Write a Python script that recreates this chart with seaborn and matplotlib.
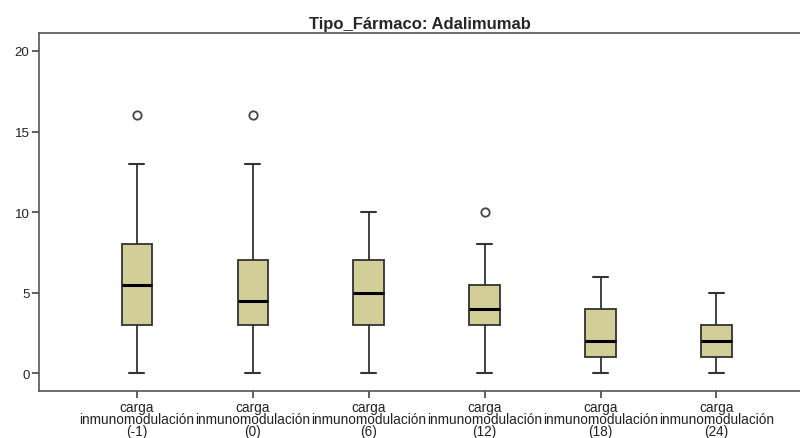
import matplotlib
matplotlib.use("Agg")
import matplotlib.pyplot as plt
import seaborn as sns

# Five-number summaries
labels = ["carga\ninmunomodulación\n(-1)", "carga\ninmunomodulación\n(0)",
          "carga\ninmunomodulación\n(6)", "carga\ninmunomodulación\n(12)",
          "carga\ninmunomodulación\n(18)", "carga\ninmunomodulación\n(24)"]
whis_lo = [0, 0, 0, 0, 0, 0]
q1 = [3, 3, 3, 3, 1, 1]
medians = [5.5, 4.5, 5, 4, 2, 2]
q3 = [8, 7, 7, 5.5, 4, 3]
whis_hi = [13, 13, 10, 8, 6, 5]
outliers = [[16], [16], [], [10], [], []]

sns.set_style("white", {"xtick.bottom": True, "ytick.left": True})
plt.rcParams["font.family"] = ["Liberation Sans", "DejaVu Sans"]

fig = plt.figure(figsize=(8, 4.39), dpi=100)
ax = fig.add_axes([0.049, 0.107, 0.951, 0.815])

stats = []
for i in range(len(labels)):
    stats.append(dict(whislo=whis_lo[i], q1=q1[i], med=medians[i], q3=q3[i],
                      whishi=whis_hi[i], fliers=outliers[i], label=labels[i]))

edge = "#333333"
ax.bxp(stats, positions=range(len(labels)), widths=0.26, patch_artist=True,
       boxprops=dict(facecolor="#d3ce97", edgecolor=edge, linewidth=1.3),
       medianprops=dict(color="black", linewidth=2.2),
       whiskerprops=dict(color=edge, linewidth=1.3),
       capprops=dict(color=edge, linewidth=1.5),
       capwidths=0.13,
       flierprops=dict(marker="o", markersize=6, markerfacecolor="white",
                       markeredgecolor="#444444", markeredgewidth=1.3))

ax.set_xlim(-0.84, 5.72)
ax.set_ylim(-1.1, 21.1)
ax.set_yticks([0, 5, 10, 15, 20])
ax.tick_params(axis="both", direction="out", length=5, width=1.2, color="#444444",
               labelsize=9.8, labelcolor="#222222", pad=1.5)
ax.tick_params(axis="y", labelsize=9.5, pad=2)
for t in ax.get_xticklabels():
    t.set_linespacing(0.82)

for side in ["left", "bottom", "top"]:
    ax.spines[side].set_color("#555555")
    ax.spines[side].set_linewidth(1.2)
ax.spines["right"].set_visible(False)

ax.set_title("Tipo_Fármaco: Adalimumab", fontsize=12, fontweight="bold", pad=4)

fig.savefig("out.png", dpi=100)
